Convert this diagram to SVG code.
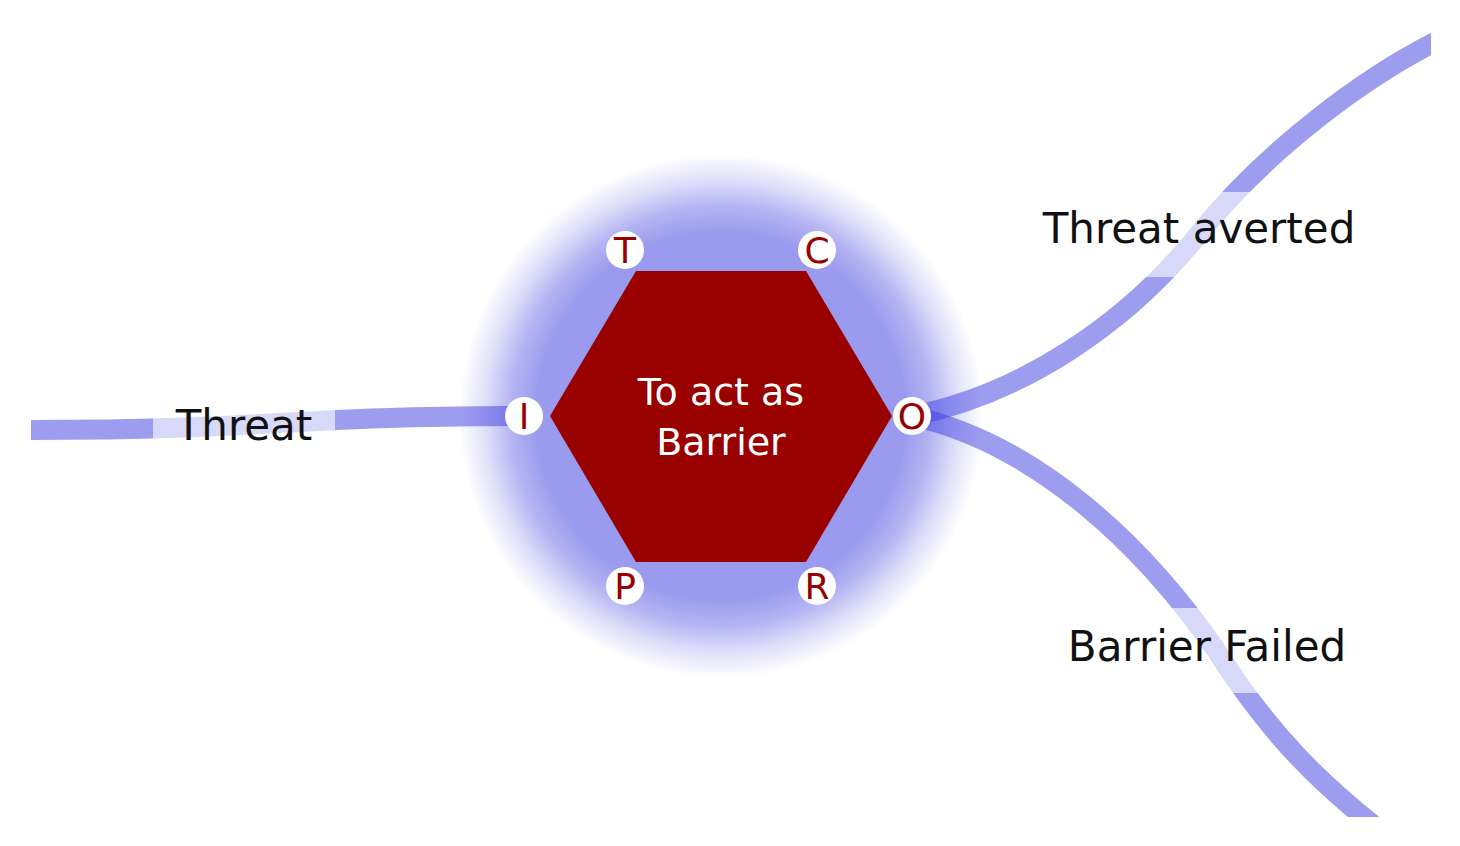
<svg xmlns="http://www.w3.org/2000/svg" width="1460" height="846" viewBox="0 0 1460 846">
  <defs>
    <radialGradient id="glow" cx="721" cy="416" r="262" gradientUnits="userSpaceOnUse">
      <stop offset="0" stop-color="#9a9aee" stop-opacity="1"/>
      <stop offset="0.7" stop-color="#9a9aee" stop-opacity="1"/>
      <stop offset="0.8" stop-color="#9a9aee" stop-opacity="0.75"/>
      <stop offset="0.9" stop-color="#9a9aee" stop-opacity="0.32"/>
      <stop offset="1" stop-color="#9a9aee" stop-opacity="0"/>
    </radialGradient>
    <clipPath id="frame">
      <rect x="0" y="0" width="1431" height="817"/>
    </clipPath>
  </defs>
  <style>
    .conn { fill: none; stroke: #3c3ce1; stroke-opacity: 0.5; stroke-width: 20; stroke-linecap: butt; }
    .lblbox { fill: #ffffff; fill-opacity: 0.6; }
    .lbl { font-family: "DejaVu Sans", Verdana, sans-serif; font-size: 42px; fill: #111111; text-anchor: middle; }
    .port circle { fill: #ffffff; }
    .port text { font-family: "DejaVu Sans", Verdana, sans-serif; font-size: 36px; fill: #990000; text-anchor: middle; }
    .hexlbl { font-family: "DejaVu Sans", Verdana, sans-serif; font-size: 38px; fill: #ffffff; text-anchor: middle; }
  </style>
  <rect width="1460" height="846" fill="#ffffff"/>

  <g id="barrier-glow">
    <circle cx="721" cy="416" r="262" fill="url(#glow)"/>
  </g>

  <g id="connectors" clip-path="url(#frame)">
    <path class="conn" d="M31,430 C268,430 290,416 524,416"/>
    <path class="conn" d="M912,416 C1023,394 1127,323 1198,235 C1262,155 1366,72 1460,30"/>
    <path class="conn" d="M912,416 C1037,444 1144,546 1216,650 C1270,735 1322,786 1390,838"/>
  </g>

  <g id="label-threat">
    <rect class="lblbox" x="153" y="388" width="182" height="85"/>
    <text class="lbl" x="244" y="440">Threat</text>
  </g>
  <g id="label-threat-averted">
    <rect class="lblbox" x="1021" y="192" width="356" height="85"/>
    <text class="lbl" x="1199" y="243">Threat averted</text>
  </g>
  <g id="label-barrier-failed">
    <rect class="lblbox" x="1045" y="608" width="324" height="85"/>
    <text class="lbl" x="1207" y="661">Barrier Failed</text>
  </g>

  <g id="barrier">
    <polygon points="550,416 636,271 806,271 892,416 806,562 636,562" fill="#990000"/>
    <text class="hexlbl" x="721" y="405">To act as</text>
    <text class="hexlbl" x="721" y="455">Barrier</text>
  </g>

  <g id="port-T" class="port"><circle cx="625" cy="250" r="19"/><text x="625" y="263">T</text></g>
  <g id="port-C" class="port"><circle cx="817" cy="250" r="19"/><text x="817" y="263">C</text></g>
  <g id="port-I" class="port"><circle cx="524" cy="416" r="19"/><text x="524" y="429">I</text></g>
  <g id="port-O" class="port"><circle cx="912" cy="416" r="19"/><text x="912" y="429">O</text></g>
  <g id="port-P" class="port"><circle cx="625" cy="586" r="19"/><text x="625" y="599">P</text></g>
  <g id="port-R" class="port"><circle cx="817" cy="586" r="19"/><text x="817" y="599">R</text></g>
</svg>
